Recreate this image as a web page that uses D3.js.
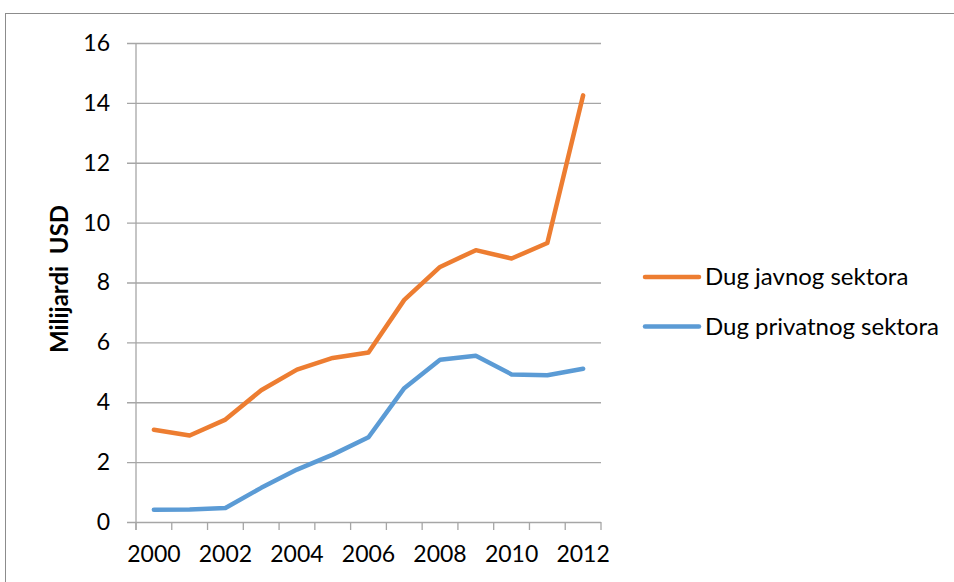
<!DOCTYPE html>
<html>
<head>
<meta charset="utf-8">
<script src="https://cdn.jsdelivr.net/npm/d3@7"></script>
<style>
  body { margin: 0; background: #fff; }
  text { font-family: Lato, "Open Sans", sans-serif; fill: #000; }
</style>
</head>
<body>
<script>
// chart data
var years = ["2000","2001","2002","2003","2004","2005","2006","2007","2008","2009","2010","2011","2012"];
var yearLabels = ["2000","2002","2004","2006","2008","2010","2012"];
var javni = [3.08, 2.89, 3.42, 4.40, 5.09, 5.48, 5.66, 7.42, 8.52, 9.08, 8.80, 9.32, 14.25];
var privatni = [0.41, 0.42, 0.47, 1.14, 1.75, 2.25, 2.83, 4.47, 5.42, 5.55, 4.93, 4.90, 5.12];
var yTicks = [0, 2, 4, 6, 8, 10, 12, 14, 16];
var seriesNames = ["Dug javnog sektora", "Dug privatnog sektora"];
var seriesColors = ["#ED7D31", "#5B9BD5"];

var W = 954, H = 582;
var margin = {top: 43, left: 136, right: 353, bottom: 60};
var width = 601 - margin.left,
    height = 522 - margin.top;

var svg = d3.select("body").append("svg")
    .attr("width", W)
    .attr("height", H);

// outer frame
svg.append("rect")
    .attr("x", 5.5).attr("y", 13.5)
    .attr("width", W).attr("height", H)
    .attr("fill", "none")
    .attr("stroke", "#8c8c8c")
    .attr("stroke-width", 1);

var g = svg.append("g")
    .attr("transform", "translate(" + margin.left + "," + margin.top + ")");

var x = d3.scaleBand().domain(years).range([0, width]).padding(0);
var y = d3.scaleLinear().domain([0, 16]).range([height, 0]);

// gridlines + y axis
var yAxis = g.append("g")
    .call(d3.axisLeft(y).tickValues(yTicks).tickSize(9).tickPadding(17));
yAxis.select(".domain").remove();
yAxis.selectAll(".tick line").remove();
yAxis.selectAll(".tick").append("line")
    .attr("x1", -9).attr("x2", width)
    .attr("stroke", "#a6a6a6").attr("stroke-width", 1.3);
yAxis.selectAll("text").style("font-size", "23px");

// y axis line
g.append("line")
    .attr("x1", 0).attr("x2", 0).attr("y1", 0).attr("y2", height + 8)
    .attr("stroke", "#a6a6a6").attr("stroke-width", 1.3);

// x axis, ticks between the categories
var xAxis = g.append("g")
    .attr("transform", "translate(0," + height + ")")
    .call(d3.axisBottom(x).tickValues(yearLabels).tickSize(0).tickPadding(24));
xAxis.select(".domain").remove();
xAxis.selectAll("text").style("font-size", "23px");
var edges = years.map(function(d) { return x(d); }).concat([width]);
xAxis.selectAll(".edge")
    .data(edges)
  .enter().append("line")
    .attr("x1", function(d) { return d; })
    .attr("x2", function(d) { return d; })
    .attr("y1", 0).attr("y2", 8)
    .attr("stroke", "#a6a6a6").attr("stroke-width", 1.3);

// lines
var line = d3.line()
    .x(function(d, i) { return x(years[i]) + x.bandwidth() / 2; })
    .y(function(d) { return y(d); });

[javni, privatni].forEach(function(s, i) {
  g.append("path")
      .datum(s)
      .attr("fill", "none")
      .attr("stroke", seriesColors[i])
      .attr("stroke-width", 4.5)
      .attr("stroke-linejoin", "round")
      .attr("stroke-linecap", "round")
      .attr("d", line);
});

// y axis title
svg.append("text")
    .attr("text-anchor", "middle")
    .attr("transform", "translate(68,279)rotate(-90)")
    .style("font-size", "24px")
    .style("font-weight", "bold")
    .style("white-space", "pre")
    .text("Milijardi  USD");

// legend
var legend = svg.selectAll(".legend")
    .data(seriesNames)
  .enter().append("g")
    .attr("transform", function(d, i) { return "translate(645," + (277 + i * 49.5) + ")"; });
legend.append("line")
    .attr("x1", 0).attr("x2", 54)
    .attr("stroke", function(d, i) { return seriesColors[i]; })
    .attr("stroke-width", 4.5)
    .attr("stroke-linecap", "round");
legend.append("text")
    .attr("x", 60)
    .attr("dy", "0.35em")
    .style("font-size", "24px")
    .text(function(d) { return d; });
</script>
</body>
</html>
